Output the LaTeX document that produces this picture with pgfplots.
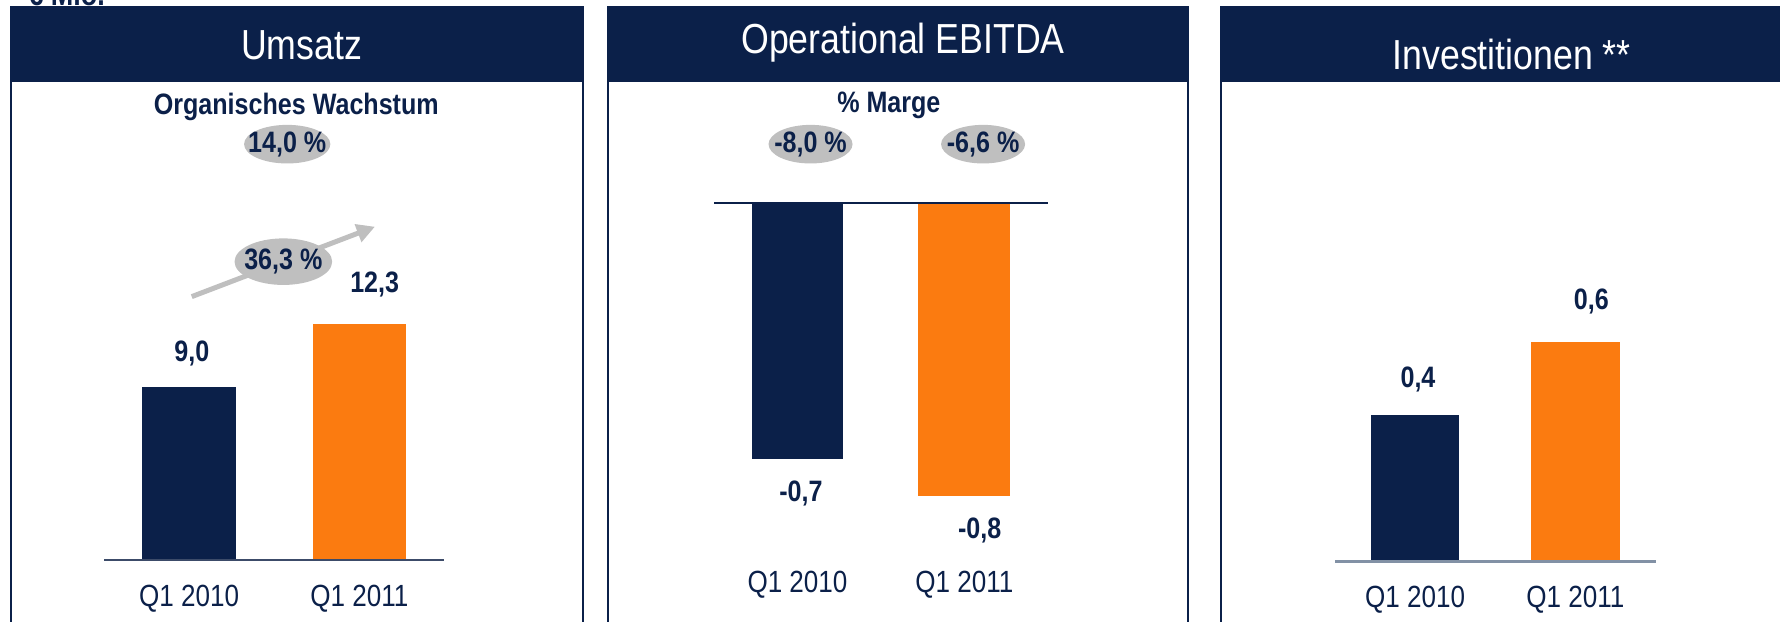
\documentclass[border=0pt]{standalone}
\usepackage{fontspec}
\setmainfont{Liberation Sans}[FakeStretch=0.85]
\usepackage{pgfplots}
\pgfplotsset{compat=1.18}
\usetikzlibrary{arrows.meta}

\definecolor{navy}{RGB}{11,32,73}
\definecolor{orng}{RGB}{251,123,16}
\definecolor{ovalgray}{RGB}{191,191,191}

\pgfplotsset{
  panel/.style={
    scale only axis,
    xmin=-0.5, xmax=1.5,
    axis line style={draw=none},
    ytick=\empty,
    xtick={0,1},
    xticklabels={Q1 2010, Q1 2011},
    major tick length=0pt,
    xticklabel style={anchor=center, font=\fontsize{13.5}{15}\selectfont, text=navy},
    clip=false,
  },
  bar/.style={ybar, bar shift=0pt, bar width=0.55, draw=none},
}
\tikzset{
  val/.style={text=navy, font=\bfseries\fontsize{13}{15}\selectfont},
  head/.style={text=white, font=\fontsize{18.5}{20}\selectfont},
}

\begin{document}
\begin{tikzpicture}
\begin{scope}[x=0.5pt, y=-0.5pt]
  \useasboundingbox (0,0) rectangle (1568,546);
  % unit label, cut by the top edge as in the slide
  \node[anchor=base west, text=navy, font=\bfseries\fontsize{14}{16}\selectfont] at (18,4.5) {€ Mio.};
  % panel headers and frames
  \fill[navy] (9,5.5) rectangle (514,72.5);
  \fill[navy] (535,5.5) rectangle (1047,72.5);
  \fill[navy] (1075,5.5) rectangle (1575,72.5);
  \draw[navy, line width=0.8pt] (9.4,72) -- (9.4,550) (513.5,72) -- (513.5,550);
  \draw[navy, line width=0.8pt] (535.5,72) -- (535.5,550) (1046.5,72) -- (1046.5,550);
  \draw[navy, line width=0.8pt] (1075.5,72) -- (1075.5,550);
  \node[head] at (265.7,39.6) {Umsatz};
  \node[head] at (795.5,38) {Operational EBITDA};
  \node[head] at (1331.6,48.4) {Investitionen **};
  % panel 1 notes
  \node[val] at (261,94) {Organisches Wachstum};
  \fill[ovalgray] (253,127) ellipse [x radius=38, y radius=17];
  \node[val] at (253,127) {14,0 \%};
  \draw[ovalgray, line width=2.2pt, -{Triangle[length=8pt,width=8pt]}] (168.9,261.3) -- (330.3,199.7);
  \fill[ovalgray] (249.6,230.5) ellipse [x radius=43, y radius=20.5];
  \node[val] at (249.6,230.5) {36,3 \%};
  % panel 2 notes
  \node[val] at (783,93) {\% Marge};
  \fill[ovalgray] (714,127) ellipse [x radius=37, y radius=17];
  \node[val] at (714,127) {-8,0 \%};
  \fill[ovalgray] (866,127) ellipse [x radius=37, y radius=17];
  \node[val] at (866,127) {-6,6 \%};
\end{scope}

% Umsatz
\begin{axis}[panel, at={(45.85pt,-246.65pt)}, anchor=south west,
  width=149.9pt, height=104.05pt, ymin=0, ymax=12.3,
  xticklabel style={yshift=-16.85pt}]
  \addplot[bar, fill=navy] coordinates {(0,9.0)};
  \addplot[bar, fill=orng] coordinates {(1,12.3)};
  \draw[color={rgb,255:red,60;green,75;blue,105}, line width=0.8pt] (axis cs:-0.5,0) -- (axis cs:1.5,0);
  \node[val] at (axis cs:0,9.0) [xshift=1.2pt, yshift=15pt] {9,0};
  \node[val] at (axis cs:1,12.3) [xshift=6.75pt, yshift=17.2pt] {12,3};
\end{axis}

% Operational EBITDA
\begin{axis}[panel, at={(314.5pt,-89.25pt)}, anchor=north west,
  width=147pt, height=129.2pt, ymin=-0.8, ymax=0,
  xticklabel style={yshift=-39pt}]
  \addplot[bar, fill=navy] coordinates {(0,-0.7)};
  \addplot[bar, fill=orng] coordinates {(1,-0.8)};
  \draw[navy, line width=0.8pt] (axis cs:-0.5,0) -- (axis cs:1.5,0);
  \node[val] at (axis cs:0,-0.7) [xshift=1.5pt, yshift=-15pt] {-0,7};
  \node[val] at (axis cs:1,-0.8) [xshift=6.75pt, yshift=-15pt] {-0,8};
\end{axis}

% Investitionen
\begin{axis}[panel, at={(588pt,-247.25pt)}, anchor=south west,
  width=141.2pt, height=96.75pt, ymin=0, ymax=0.6,
  xticklabel style={yshift=-17pt}]
  \addplot[bar, fill=navy] coordinates {(0,0.4)};
  \addplot[bar, fill=orng] coordinates {(1,0.6)};
  \draw[color={rgb,255:red,130;green,145;blue,165}, line width=1pt] (axis cs:-0.5,0) -- (axis cs:1.5,0);
  \node[val] at (axis cs:0,0.4) [xshift=1.25pt, yshift=15.5pt] {0,4};
  \node[val] at (axis cs:1,0.6) [xshift=7pt, yshift=17.5pt] {0,6};
\end{axis}
\end{tikzpicture}
\end{document}
